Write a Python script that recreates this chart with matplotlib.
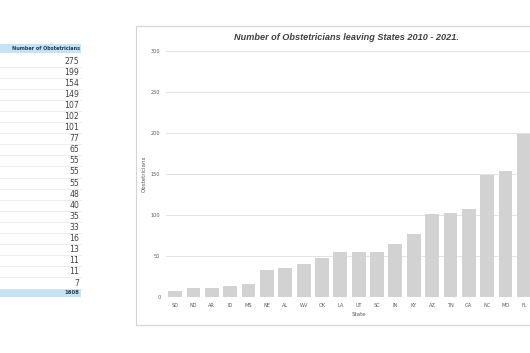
import matplotlib
matplotlib.use("Agg")
import matplotlib.pyplot as plt
from matplotlib.patches import Rectangle

W, H = 530, 353

# chart data (ascending, as drawn)
states = ["SD", "ND", "AR", "ID", "MS", "NE", "AL", "WV", "OK", "LA",
          "UT", "SC", "IN", "KY", "AZ", "TN", "GA", "NC", "MO", "FL"]
leaving = [7, 11, 11, 13, 16, 33, 35, 40, 48, 55,
           55, 55, 65, 77, 101, 102, 107, 149, 154, 199]

# table on the left (descending)
table_values = [275, 199, 154, 149, 107, 102, 101, 77, 65, 55, 55,
                55, 48, 40, 35, 33, 16, 13, 11, 11, 7]
table_total = 1608
yticks = [0, 50, 100, 150, 200, 250, 300]


def fx(x):
    return x / W


def fy(y):
    return 1 - y / H


fig = plt.figure(figsize=(W / 100, H / 100), dpi=100)
fig.patch.set_facecolor("white")

# ---- table ----
row_h = 11.1
fig.patches.append(Rectangle((fx(0), fy(53)), fx(81), 9 / H, transform=fig.transFigure,
                             facecolor="#c6e2f5", edgecolor="none", zorder=1))
fig.text(fx(80), fy(48.5), "Number of Obstetricians", fontsize=3.5, fontweight="bold",
         color="#1f3b57", ha="right", va="center", zorder=2)
for i, v in enumerate(table_values):
    yc = 61 + i * row_h
    fig.text(fx(79), fy(yc), str(v), fontsize=5.6, color="#404040",
             ha="right", va="center", zorder=2)
    fig.lines.append(plt.Line2D([0, fx(81)], [fy(yc + row_h / 2)] * 2,
                                transform=fig.transFigure, color="#e4e4e4", lw=0.5))
fig.patches.append(Rectangle((fx(0), fy(297)), fx(81), 8.5 / H, transform=fig.transFigure,
                             facecolor="#c6e2f5", edgecolor="none", zorder=1))
fig.text(fx(79), fy(293), str(table_total), fontsize=3.8, fontweight="bold",
         color="#1f3b57", ha="right", va="center", zorder=2)

# ---- chart frame ----
fig.patches.append(Rectangle((fx(136), fy(325)), fx(420), 299 / H, transform=fig.transFigure,
                             facecolor="none", edgecolor="#d4d4d4", lw=0.8, zorder=1))

ax = fig.add_axes([fx(166), fy(297), 21 * 18.35 / W, 246 / H])
ax.patch.set_alpha(0)
ax.bar(range(len(states)), leaving, width=0.75, color="#d2d2d2", zorder=3)
ax.set_xlim(-0.5, 20.5)
ax.set_ylim(0, 300)
ax.set_yticks(yticks)
ax.set_xticks(range(len(states)))
ax.set_xticklabels(states)
ax.tick_params(axis="both", length=0, labelsize=3.6, colors="#595959", pad=4)
ax.grid(axis="y", color="#e3e3e3", lw=0.7, zorder=0)
for s in ax.spines.values():
    s.set_visible(False)
ax.set_xlabel("State", fontsize=4.0, color="#595959", labelpad=3)
ax.set_ylabel("Obstetricians", fontsize=4.0, color="#595959", labelpad=3)

fig.text(fx(346), fy(37), "Number of Obstetricians leaving States 2010 - 2021.",
         fontsize=6.6, fontweight="bold", fontstyle="italic", color="#404040",
         family="Liberation Sans", ha="center", va="center")

fig.savefig("out.png", dpi=100)
